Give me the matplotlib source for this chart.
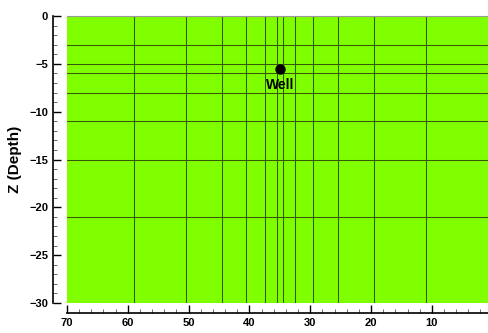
import numpy as np
import matplotlib
matplotlib.use("Agg")
from matplotlib import pyplot as plt
from matplotlib.ticker import MultipleLocator

# grid lines of the mesh
x_lines = [59, 50.5, 44.5, 40.5, 37.5, 35.5, 34.5, 32.5, 29.5, 25.5, 19.5, 11]
z_lines = [-3, -5, -6, -8, -11, -15, -21]
well_x = 35
well_z = -5.5
well_name = "Well"
x_ticks = [70, 60, 50, 40, 30, 20, 10]
z_ticks = [0, -5, -10, -15, -20, -25, -30]

plt.rcParams['font.family'] = ['Liberation Sans', 'DejaVu Sans']
plt.rcParams['font.weight'] = 'bold'

fig = plt.figure(figsize=(4.89, 3.33), dpi=100)
ax = fig.add_axes([67/489, 1-303/333, 1-67/489, (303-16)/333])

ax.set_facecolor('#80ff00')
for x in x_lines:
    ax.axvline(x, color='#35580a', lw=0.75)
for z in z_lines:
    ax.axhline(z, color='#35580a', lw=0.75)

ax.plot(well_x, well_z, 'o', color='black', ms=6.5, zorder=5)
ax.text(well_x, well_z - 1.0, well_name, ha='center', va='top',
        fontsize=10, fontweight='bold', zorder=5)

ax.set_xlim(70, 0.6)
ax.set_ylim(-30, 0)
ax.set_xticks(x_ticks)
ax.set_yticks(z_ticks)
ax.xaxis.set_minor_locator(MultipleLocator(2))
ax.yaxis.set_minor_locator(MultipleLocator(1))

ax.spines['left'].set_position(('outward', 10))
ax.spines['bottom'].set_position(('outward', 7))
ax.spines['left'].set_linewidth(1.2)
ax.spines['bottom'].set_linewidth(1.2)
ax.spines['right'].set_visible(False)
ax.spines['top'].set_color('#999999')

ax.tick_params(which='both', direction='in', labelsize=8, width=1)
ax.tick_params(which='major', length=6)
ax.tick_params(which='minor', length=3, width=0.6, color='#555555')
for lab in ax.get_xticklabels() + ax.get_yticklabels():
    lab.set_fontweight('bold')

ax.set_xlabel('X', fontsize=11, fontweight='bold', labelpad=5)
ax.set_ylabel('Z (Depth)', fontsize=11, fontweight='bold', labelpad=5)

plt.savefig('out.png', dpi=100)
